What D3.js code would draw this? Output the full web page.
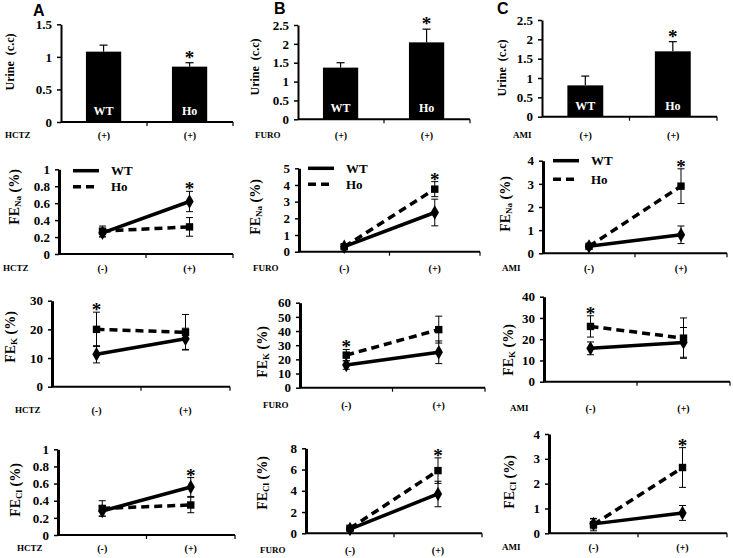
<!DOCTYPE html>
<html><head><meta charset="utf-8">
<script src="https://cdn.jsdelivr.net/npm/d3@7"></script>
<style>body{margin:0;background:#fff} svg{display:block}</style>
</head><body>
<svg id="c" width="733" height="558"></svg>
<script>
// ---------------- DATA ----------------
const letters = ["A", "B", "C"];
const drugs = ["HCTZ", "FURO", "AMI"];
const groups = ["WT", "Ho"];
const conditions = ["(-)", "(+)"];

// Urine volume (c.c) with drug (+): per drug [WT, Ho]
const urineMean = [[1.08, 0.85], [1.37, 2.04], [0.81, 1.69]];
const urineErr  = [[0.10, 0.06], [0.13, 0.35], [0.24, 0.25]];
const urineSig  = [1, 1, 1];               // index of group with asterisk
const urineTicks = [[0, 0.5, 1, 1.5], [0, 0.5, 1, 1.5, 2, 2.5], [0, 0.5, 1, 1.5, 2, 2.5]];

// FE Na (%): per drug [(-), (+)]
const feNaWT    = [[0.25, 0.62], [0.30, 2.35], [0.30, 0.80]];
const feNaWTErr = [[0.05, 0.12], [0.12, 0.80], [0.06, 0.38]];
const feNaHo    = [[0.27, 0.32], [0.30, 3.75], [0.30, 2.90]];
const feNaHoErr = [[0.06, 0.11], [0.12, 0.45], [0.06, 0.75]];
const feNaSig   = [1, 1, 1];
const feNaTicks = [[0, 0.2, 0.4, 0.6, 0.8, 1], [0, 1, 2, 3, 4, 5], [0, 1, 2, 3, 4]];

// FE K (%)
const feKWT    = [[11.3, 16.7], [16, 25], [15.7, 18.5]];
const feKWTErr = [[3, 3.7], [3, 8], [3, 7]];
const feKHo    = [[20, 19], [23, 41], [26, 20.5]];
const feKHoErr = [[6, 6.2], [4, 9.5], [5, 9.5]];
const feKSig   = [0, 0, 0];
const feKTicks = [[0, 10, 20, 30], [0, 10, 20, 30, 40, 50, 60], [0, 10, 20, 30, 40]];

// FE Cl (%)
const feClWT    = [[0.28, 0.56], [0.40, 3.7], [0.38, 0.82]];
const feClWTErr = [[0.06, 0.11], [0.15, 1.2], [0.20, 0.30]];
const feClHo    = [[0.31, 0.35], [0.47, 5.9], [0.35, 2.65]];
const feClHoErr = [[0.09, 0.09], [0.15, 1.2], [0.25, 0.80]];
const feClSig   = [1, 1, 1];
const feClTicks = [[0, 0.2, 0.4, 0.6, 0.8, 1], [0, 2, 4, 6, 8], [0, 1, 2, 3, 4]];

// ---------------- LAYOUT ----------------
// x0: y-axis x, x1: x-axis end, y0: zero line, yT: pixel of max tick
// tx,ty: y-title center; lx,ly: drug label start/center
const layout = [
  [{x0:61,x1:233,y0:122,yT:24.3,tx:10,ty:62,lx:5,ly:135},
   {x0:298,x1:470,y0:119.3,yT:25,tx:255,ty:67,lx:255,ly:135},
   {x0:542,x1:717,y0:116.7,yT:20,tx:502,ty:68,lx:513,ly:135}],
  [{x0:59,x1:233,y0:254,yT:169.3,tx:14,ty:197,lx:3,ly:268,leg:{x:73,y:170.7,dy:16}},
   {x0:299,x1:480,y0:251.7,yT:168.3,tx:255,ty:207,lx:253,ly:268,leg:{x:308,y:168.3,dy:16}},
   {x0:543,x1:727,y0:253.3,yT:160.7,tx:505,ty:204,lx:502,ly:268,leg:{x:553,y:160.7,dy:18.6}}],
  [{x0:52,x1:230,y0:386.7,yT:300.7,tx:10,ty:337,lx:15,ly:410},
   {x0:300,x1:485,y0:387.7,yT:302.7,tx:262,ty:352,lx:263,ly:405},
   {x0:544,x1:730,y0:381.7,yT:296.7,tx:508,ty:350,lx:510,ly:408}],
  [{x0:58,x1:235,y0:535,yT:449.3,tx:15,ty:490,lx:17,ly:548},
   {x0:306,x1:482,y0:533.3,yT:448.3,tx:262,ty:483,lx:260,ly:550},
   {x0:549,x1:727,y0:533.3,yT:434,tx:509,ty:482,lx:502,ly:547}]
];
const letterPos = [{x:33,y:16},{x:274,y:14},{x:497,y:14}];

const SERIF = "'Liberation Serif','Times New Roman',serif";
const SANS = "'Liberation Sans',Arial,sans-serif";

const svg = d3.select("#c");

function yAxis(g, L, y, ticks, width) {
  const ax = g.append("g").attr("transform", `translate(${L.x0},0)`)
    .call(d3.axisLeft(y).tickValues(ticks).tickSize(4).tickSizeOuter(0).tickPadding(5).tickFormat(d => d));
  ax.select(".domain").attr("stroke", "#000").attr("stroke-width", width);
  ax.selectAll(".tick line").attr("stroke", "#000").attr("stroke-width", 1.5);
  ax.selectAll(".tick text").attr("font-family", SERIF).attr("font-weight", "bold")
    .attr("font-size", 13).attr("fill", "#000");
}

function xAxis(g, L, x) {
  g.append("line").attr("x1", L.x0).attr("x2", L.x1).attr("y1", L.y0).attr("y2", L.y0)
    .attr("stroke", "#000").attr("stroke-width", 2);
  const edges = x.domain().slice(1).map(d => x(d)).concat([L.x1]);
  g.selectAll(".xt").data(edges).enter().append("line")
    .attr("x1", d => d).attr("x2", d => d).attr("y1", L.y0).attr("y2", L.y0 + 4)
    .attr("stroke", "#000").attr("stroke-width", 1.2);
}

function yTitle(g, L, main, sub) {
  const t = g.append("text")
    .attr("transform", `translate(${L.tx},${L.ty}) rotate(-90)`)
    .attr("text-anchor", "middle").attr("dominant-baseline", "central")
    .attr("font-family", SERIF).attr("font-weight", "bold").attr("fill", "#000");
  if (sub) {
    t.attr("font-size", 14);
    t.append("tspan").text("FE");
    t.append("tspan").text(sub).attr("font-size", 9).attr("dy", 4);
    t.append("tspan").text("\u00a0(%)").attr("dy", -4);
  } else {
    t.attr("font-size", 12).text(main);
  }
}

function drugLabels(g, L, di, x, cats) {
  g.append("text").attr("x", L.lx).attr("y", L.ly).attr("dominant-baseline", "central")
    .attr("font-family", SERIF).attr("font-weight", "bold").attr("font-size", 9)
    .text(drugs[di]);
  g.selectAll(".cl").data(cats).enter().append("text")
    .attr("x", (d, i) => x(x.domain()[i]) + x.bandwidth() / 2).attr("y", L.ly)
    .attr("text-anchor", "middle").attr("dominant-baseline", "central")
    .attr("font-family", SERIF).attr("font-weight", "bold").attr("font-size", 10)
    .text(d => d);
}

function star(g, cx, cy) {
  g.append("text").attr("x", cx).attr("y", cy + 9).attr("text-anchor", "middle")
    .attr("font-family", SERIF).attr("font-weight", "bold").attr("font-size", 19)
    .text("*");
}

// ---------- Row 0: urine bar charts ----------
drugs.forEach((dname, di) => {
  const L = layout[0][di];
  const g = svg.append("g");
  const ticks = urineTicks[di];
  const y = d3.scaleLinear().domain([0, d3.max(ticks)]).range([L.y0, L.yT]);
  const x = d3.scaleBand().domain(groups).range([L.x0, L.x1]);
  const bw = x.bandwidth();
  const data = groups.map((gr, i) => ({g: gr, v: urineMean[di][i], e: urineErr[di][i], i}));
  // error bars (upper only)
  data.forEach(d => {
    const cx = x(d.g) + bw * 0.495;
    g.append("line").attr("x1", cx).attr("x2", cx).attr("y1", y(d.v)).attr("y2", y(d.v + d.e))
      .attr("stroke", "#000").attr("stroke-width", 1.2);
    g.append("line").attr("x1", cx - 4).attr("x2", cx + 4).attr("y1", y(d.v + d.e)).attr("y2", y(d.v + d.e))
      .attr("stroke", "#000").attr("stroke-width", 1.2);
  });
  g.selectAll("rect").data(data).enter().append("rect")
    .attr("x", d => x(d.g) + bw * 0.29).attr("width", bw * 0.41)
    .attr("y", d => y(d.v)).attr("height", d => y(0) - y(d.v)).attr("fill", "#000");
  g.selectAll(".bl").data(data).enter().append("text")
    .attr("x", d => x(d.g) + bw * 0.495).attr("y", L.y0 - 7)
    .attr("text-anchor", "middle").attr("fill", "#fff")
    .attr("font-family", SERIF).attr("font-weight", "bold").attr("font-size", 12)
    .text(d => d.g);
  yAxis(g, L, y, ticks, 2);
  xAxis(g, L, x);
  yTitle(g, L, "Urine\u00a0 (c.c)");
  const s = data[urineSig[di]];
  star(g, x(s.g) + bw * 0.495, y(s.v + s.e) - 8);
  drugLabels(g, L, di, x, ["(+)", "(+)"]);
  svg.append("text").attr("x", letterPos[di].x).attr("y", letterPos[di].y)
    .attr("font-family", SANS).attr("font-weight", "bold").attr("font-size", 16).text(letters[di]);
});

// ---------- Rows 1-3: line charts ----------
const lineRows = [
  {wt: feNaWT, wtE: feNaWTErr, ho: feNaHo, hoE: feNaHoErr, sig: feNaSig, ticks: feNaTicks, sub: "Na"},
  {wt: feKWT, wtE: feKWTErr, ho: feKHo, hoE: feKHoErr, sig: feKSig, ticks: feKTicks, sub: "K"},
  {wt: feClWT, wtE: feClWTErr, ho: feClHo, hoE: feClHoErr, sig: feClSig, ticks: feClTicks, sub: "Cl"}
];

lineRows.forEach((R, ri) => {
  drugs.forEach((dname, di) => {
    const L = layout[ri + 1][di];
    const g = svg.append("g");
    const ticks = R.ticks[di];
    const y = d3.scaleLinear().domain([0, d3.max(ticks)]).range([L.y0, L.yT]);
    const x = d3.scaleBand().domain(conditions).range([L.x0, L.x1]);
    const cxf = c => x(c) + x.bandwidth() / 2;
    const series = [
      {name: "WT", vals: R.wt[di], errs: R.wtE[di], dash: null, sym: d3.symbolDiamond, size: 60},
      {name: "Ho", vals: R.ho[di], errs: R.hoE[di], dash: "8,5", sym: d3.symbolSquare, size: 55}
    ];
    const line = d3.line().x(d => cxf(d.c)).y(d => y(d.v));
    series.slice().reverse().forEach(s => {
      const pts = conditions.map((c, i) => ({c, v: s.vals[i], e: s.errs[i]}));
      // error bars
      pts.forEach(p => {
        const cx = cxf(p.c);
        g.append("line").attr("x1", cx).attr("x2", cx).attr("y1", y(p.v - p.e)).attr("y2", y(p.v + p.e))
          .attr("stroke", "#000").attr("stroke-width", 1);
        [p.v - p.e, p.v + p.e].forEach(v => {
          g.append("line").attr("x1", cx - 3.5).attr("x2", cx + 3.5).attr("y1", y(v)).attr("y2", y(v))
            .attr("stroke", "#000").attr("stroke-width", 1);
        });
      });
      g.append("path").datum(pts).attr("d", line).attr("fill", "none")
        .attr("stroke", "#000").attr("stroke-width", 3.5)
        .attr("stroke-dasharray", s.dash);
      g.selectAll(null).data(pts).enter().append("path")
        .attr("d", d3.symbol().type(s.sym).size(s.size))
        .attr("transform", d => `translate(${cxf(d.c)},${y(d.v)})`).attr("fill", "#000");
    });
    yAxis(g, L, y, ticks, 3);
    xAxis(g, L, x);
    yTitle(g, L, null, R.sub);
    const si = R.sig[di];
    const top = Math.max(series[0].vals[si] + series[0].errs[si], series[1].vals[si] + series[1].errs[si]);
    star(g, cxf(conditions[si]), y(top) - 5);
    drugLabels(g, L, di, x, conditions);
    if (L.leg) {
      series.forEach((s, k) => {
        const ly = L.leg.y + k * L.leg.dy;
        g.append("line").attr("x1", L.leg.x).attr("x2", L.leg.x + 26).attr("y1", ly).attr("y2", ly)
          .attr("stroke", "#000").attr("stroke-width", 3.5).attr("stroke-dasharray", s.dash);
        g.append("text").attr("x", L.leg.x + 38).attr("y", ly).attr("dominant-baseline", "central")
          .attr("font-family", SERIF).attr("font-weight", "bold").attr("font-size", 13).text(s.name);
      });
    }
  });
});
</script></body></html>
